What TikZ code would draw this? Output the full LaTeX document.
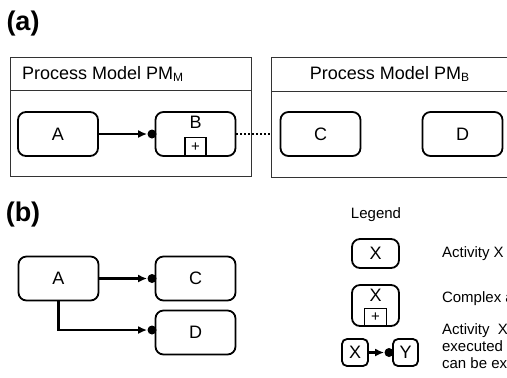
\documentclass[tikz,border=0pt]{standalone}
\usepackage{fontspec}
\setmainfont{Liberation Sans}
\usetikzlibrary{arrows.meta,positioning}

\tikzset{
  activity/.style={draw, rounded corners=4pt, line width=0.9pt, inner sep=0pt,
    minimum width=40pt, minimum height=22pt, font=\fontsize{9}{10}\selectfont},
  plusbox/.style={draw, line width=0.6pt, inner sep=0pt, minimum width=10.5pt,
    minimum height=9.5pt, font=\fontsize{7.5}{8}\selectfont},
  frame/.style={draw=black!80, line width=0.5pt},
  dot/.style={circle, fill=black, inner sep=0pt, minimum size=4.5pt},
  flow/.style={line width=1.1pt, -{Latex[length=4.5pt,width=4pt]}},
  panel/.style={font=\fontsize{13.5}{14}\selectfont\bfseries},
  legendtext/.style={font=\fontsize{7.5}{8}\selectfont, align=left}
}

\begin{document}
\begin{tikzpicture}[x=0.5pt,y=-0.5pt]

    \clip (0,0) rectangle (507,377);

    % (a) process models
    \node[panel] (lblA) at (23,24) {(a)};

    \draw[frame] (10,57) rectangle (251,176);
    \draw[frame] (10,90) -- (251,90);
    \node[anchor=west, font=\fontsize{9}{10}\selectfont] (titleM) at (15,74) {Process Model PM\textsubscript{M}};

    \draw[frame] (271,57) rectangle (509,177);
    \draw[frame] (271,91) -- (509,91);
    \node[font=\fontsize{9}{10}\selectfont] (titleB) at (390,74) {Process Model PM\textsubscript{B}};

    \node[activity] (aM) at (58,134) {A};
    \node[activity] (bM) at (195.5,134) {};
    \node[font=\fontsize{9}{10}\selectfont] (bMtext) at (195.5,122) {B};
    \node[plusbox, anchor=south] (bMplus) at (bM.south) {+};
    \node[dot] (dotM) at (152,134) {};
    \draw[flow] (aM) -- (dotM);

    \node[activity] (cB) at (320.5,134) {C};
    \node[activity] (dB) at (462.5,134) {D};

    % refinement link
    \coordinate (pmBwest) at (271,134);
    \draw[line width=1pt, dash pattern=on 1pt off 1pt] (bM) -- (pmBwest);

    % (b) flattened model
    \node[panel] (lblB) at (23,215) {(b)};

    \node[activity] (aF) at (58.5,278.5) {A};
    \node[activity] (cF) at (195.5,278.5) {C};
    \node[activity] (dF) at (195.5,332.5) {D};
    \node[dot] (dotC) at (152,278.5) {};
    \node[dot] (dotD) at (152,330) {};
    \draw[flow] (aF) -- (dotC);
    \draw[flow] (aF.south) |- (dotD);

    % Legend
    \node[legendtext] (legend) at (376,215) {Legend};

    \node[activity, minimum width=23.5pt, minimum height=14.5pt] (legX) at (375.5,253.5) {X};
    \node[legendtext, anchor=west] (legXtext) at (435,254) {Activity X};

    \node[activity, minimum width=23.5pt, minimum height=20.5pt] (legCX) at (375.5,305.5) {};
    \node[font=\fontsize{9}{10}\selectfont] (legCXtext) at (375.5,295) {X};
    \node[plusbox, anchor=south, minimum width=11pt, minimum height=9pt] (legCXplus) at (legCX.south) {+};
    \node[legendtext, anchor=west] (legCtext) at (435,299) {Complex a};

    \node[activity, rounded corners=2.5pt, minimum width=13pt, minimum height=13.5pt] (legSX) at (355,352.5) {X};
    \node[activity, rounded corners=2.5pt, minimum width=12.5pt, minimum height=13.5pt] (legSY) at (405.5,352.5) {Y};
    \node[dot] (legDot) at (389,352.5) {};
    \draw[flow] (legSX) -- (legDot);
    \node[legendtext, anchor=west] (legFtext) at (435,346) {Activity\ \ X\\[0.5pt]executed\\[0.5pt]can be ex};

\end{tikzpicture}
\end{document}
